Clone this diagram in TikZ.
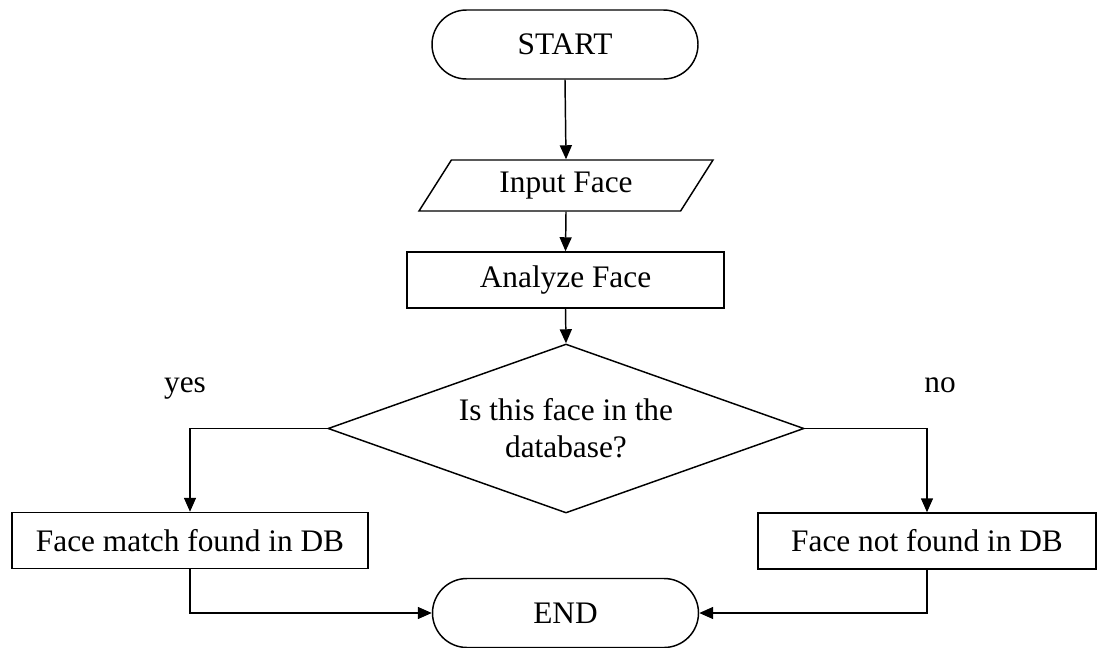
\documentclass[tikz,border=0pt]{standalone}
\usepackage{fontspec}
\setmainfont{Liberation Serif}
\usepackage{tikz}
\usetikzlibrary{shapes.geometric, shapes.misc, arrows.meta}

\tikzset{
  terminal/.style = {rounded rectangle, draw, minimum width = 199.5pt, minimum height = 51.75pt, inner sep = 0pt},
  inout/.style = {trapezium, trapezium left angle = 40, trapezium right angle = 140, trapezium stretches body, draw, minimum width = 220.5pt, minimum height = 38.25pt, inner sep = 0pt},
  process/.style = {rectangle, draw, minimum height = 42pt, inner sep = 0pt},
  decision/.style = {diamond, draw, aspect = 2.82, minimum width = 357pt, minimum height = 126.75pt, inner sep = 0pt, align = center}
}

\begin{document}
\begin{tikzpicture}[x = .75pt, y = -.75pt, line width = 1.1pt, >={Triangle[width = 9pt, length = 10.5pt]},
  font = \fontsize{23.5}{28}\selectfont]
\useasboundingbox (0, 0) rectangle (1097, 647);
\node at (565, 44.5) [name=start, terminal] {START};
\node at (566, 185.5) [name=input, inout] {Input Face};
\node at (565.5, 280) [name=analyze, process, minimum width = 237.75pt] {Analyze Face};
\node at (566, 428.5) [name=decide, decision] {Is this face in the\\database?};
\node at (190, 540.5) [name=match, process, minimum width = 267pt] {Face match found in DB};
\node at (927, 541) [name=nomatch, process, minimum width = 253.5pt] {Face not found in DB};
\node at (565.5, 613) [name=finish, terminal] {END};
\node at (185, 392) [name=yes, anchor = base] {yes};
\node at (940, 392) [name=no, anchor = base] {no};
%\draw [->] (start) -- (input);
\draw [->] (start.south) -- (input.north);
\draw [->] (input.south) -- (analyze.north);
\draw [->] (analyze.south) -- (decide.north);
\draw [->] (decide.west) -| (match.north);
\draw [->] (decide.east) -| (nomatch.north);
\draw [->] (match.south) |- (finish.west);
\draw [->] (nomatch.south) |- (finish.east);
\end{tikzpicture}
\end{document}
